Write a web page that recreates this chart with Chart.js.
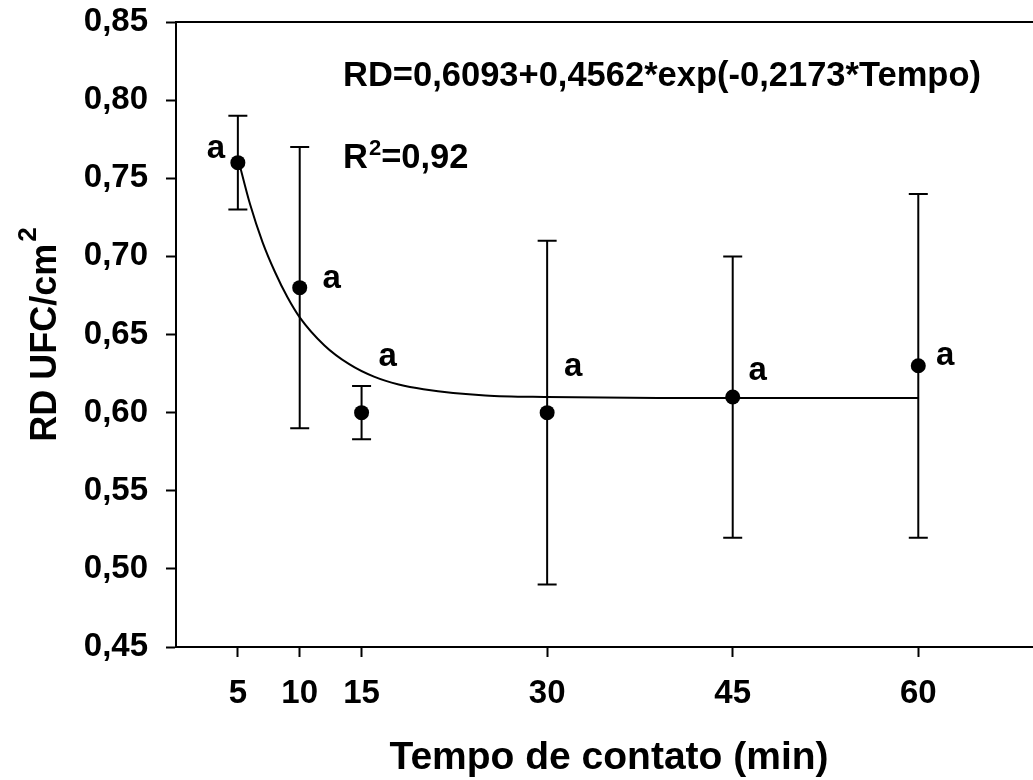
<!DOCTYPE html>
<html>
<head>
<meta charset="utf-8">
<script src="https://cdn.jsdelivr.net/npm/chart.js@4/dist/chart.umd.min.js"></script>
<style>
  html, body { margin: 0; padding: 0; background: #fff; overflow: hidden; }
  #wrap { width: 1050px; height: 780px; }
</style>
</head>
<body>
<div id="wrap"><canvas id="chart" width="1050" height="780"></canvas></div>
<script>
// values
const xTicks = [5, 10, 15, 30, 45, 60];
const yTicks = [0.45, 0.50, 0.55, 0.60, 0.65, 0.70, 0.75, 0.80, 0.85];

const times = [5, 10, 15, 30, 45, 60];
const means = [0.76, 0.68, 0.60, 0.60, 0.61, 0.63];
const lower = [0.73, 0.59, 0.583, 0.49, 0.52, 0.52];
const upper = [0.79, 0.77, 0.617, 0.71, 0.70, 0.74];
const letters = ["a", "a", "a", "a", "a", "a"];

// fitted curve
const fitTimes = [5, 6, 7, 8, 9, 10, 12, 14, 16, 18, 20, 25, 30, 40, 50, 60];
const fitValues = [0.763, 0.733, 0.709, 0.690, 0.674, 0.661, 0.643, 0.631, 0.623, 0.618,
                   0.615, 0.611, 0.610, 0.6094, 0.6093, 0.6093];

const equation = "RD=0,6093+0,4562*exp(-0,2173*Tempo)";
const r2Value = "=0,92";
const xTitle = "Tempo de contato (min)";
const yTitle = "RD UFC/cm";

// pixel offsets of the letters from their points (style)
const letterOffsets = [[-22, -5], [32, 0], [26, -47], [26, -37], [25, -17], [27, -1]];

const FONT = "'Liberation Sans', Arial, sans-serif";
const fmt = v => v.toFixed(2).replace(".", ",");

const extras = {
  id: "extras",
  beforeDatasetsDraw(chart) {
    const ctx = chart.ctx;
    const x = chart.scales.x, y = chart.scales.y;
    ctx.save();
    ctx.strokeStyle = "#000";
    ctx.lineWidth = 2;
    times.forEach((t, i) => {
      const px = x.getPixelForValue(t);
      const top = y.getPixelForValue(upper[i]);
      const bot = y.getPixelForValue(lower[i]);
      ctx.beginPath();
      ctx.moveTo(px, top); ctx.lineTo(px, bot);
      ctx.moveTo(px - 9.5, top); ctx.lineTo(px + 9.5, top);
      ctx.moveTo(px - 9.5, bot); ctx.lineTo(px + 9.5, bot);
      ctx.stroke();
    });
    ctx.restore();
  },
  afterDraw(chart) {
    const ctx = chart.ctx;
    const area = chart.chartArea;
    const x = chart.scales.x, y = chart.scales.y;
    ctx.save();
    ctx.fillStyle = "#000";
    ctx.strokeStyle = "#000";

    // top frame line (right side falls outside the picture)
    ctx.lineWidth = 2;
    ctx.beginPath();
    ctx.moveTo(area.left, area.top);
    ctx.lineTo(area.right + 10, area.top);
    ctx.stroke();

    // group letters
    ctx.font = "bold 33px " + FONT;
    ctx.textAlign = "center";
    ctx.textBaseline = "alphabetic";
    times.forEach((t, i) => {
      const px = x.getPixelForValue(t) + letterOffsets[i][0];
      const py = y.getPixelForValue(means[i]) + letterOffsets[i][1];
      ctx.fillText(letters[i], px, py);
    });

    // equation and R²
    ctx.textAlign = "left";
    const ex = x.getPixelForValue(13.5);
    ctx.font = "bold 34.5px " + FONT;
    ctx.fillText(equation, ex, y.getPixelForValue(0.809));
    const ry = y.getPixelForValue(0.7565);
    ctx.fillText("R", ex, ry);
    const rw = ctx.measureText("R").width;
    ctx.font = "bold 22px " + FONT;
    ctx.fillText("2", ex + rw + 1, ry - 13);
    const sw = ctx.measureText("2").width;
    ctx.font = "bold 34.5px " + FONT;
    ctx.fillText(r2Value, ex + rw + sw + 1, ry);

    // x title
    ctx.font = "bold 39px " + FONT;
    ctx.textAlign = "center";
    ctx.fillText(xTitle, (area.left + area.right) / 2, 769);

    // y title with superscript
    ctx.translate(56, (area.top + area.bottom) / 2);
    ctx.rotate(-Math.PI / 2);
    ctx.font = "bold 36px " + FONT;
    const mainW = ctx.measureText(yTitle).width;
    ctx.font = "bold 26px " + FONT;
    const supW = ctx.measureText("2").width;
    const startX = -(mainW + supW + 2) / 2;
    ctx.textAlign = "left";
    ctx.font = "bold 36px " + FONT;
    ctx.fillText(yTitle, startX, 0);
    ctx.font = "bold 26px " + FONT;
    ctx.fillText("2", startX + mainW + 2, -20);
    ctx.restore();
  }
};

new Chart(document.getElementById("chart"), {
  type: "scatter",
  data: {
    datasets: [
      {
        data: fitTimes.map((t, i) => ({ x: t, y: fitValues[i] })),
        showLine: true,
        cubicInterpolationMode: "monotone",
        borderColor: "#000",
        borderWidth: 2,
        pointRadius: 0,
        fill: false
      },
      {
        data: times.map((t, i) => ({ x: t, y: means[i] })),
        pointRadius: 7.5,
        pointBackgroundColor: "#000",
        pointBorderColor: "#000",
        pointBorderWidth: 0
      }
    ]
  },
  options: {
    responsive: false,
    animation: false,
    layout: { padding: { top: 22, right: 8, left: 0, bottom: 0 } },
    plugins: { legend: { display: false }, tooltip: { enabled: false } },
    scales: {
      x: {
        type: "linear",
        min: 0,
        max: 70,
        afterBuildTicks: axis => { axis.ticks = xTicks.map(v => ({ value: v })); },
        afterFit: axis => { axis.height = 133; axis.paddingLeft = 0; axis.paddingRight = 0; },
        grid: { drawOnChartArea: false, drawTicks: true, tickLength: 10, tickWidth: 2, color: "#000" },
        border: { display: true, color: "#000", width: 2 },
        ticks: {
          color: "#000",
          font: { family: FONT, size: 33, weight: "bold" },
          padding: 17,
          maxRotation: 0,
          autoSkip: false
        }
      },
      y: {
        type: "linear",
        min: 0.45,
        max: 0.85,
        afterBuildTicks: axis => { axis.ticks = yTicks.map(v => ({ value: v })); },
        afterFit: axis => { axis.width = 176; axis.paddingTop = 0; axis.paddingBottom = 0; },
        grid: { drawOnChartArea: false, drawTicks: true, tickLength: 10, tickWidth: 2, color: "#000" },
        border: { display: true, color: "#000", width: 2 },
        ticks: {
          color: "#000",
          font: { family: FONT, size: 33, weight: "bold" },
          padding: 18,
          callback: v => fmt(v)
        }
      }
    }
  },
  plugins: [extras]
});
</script>
</body>
</html>
